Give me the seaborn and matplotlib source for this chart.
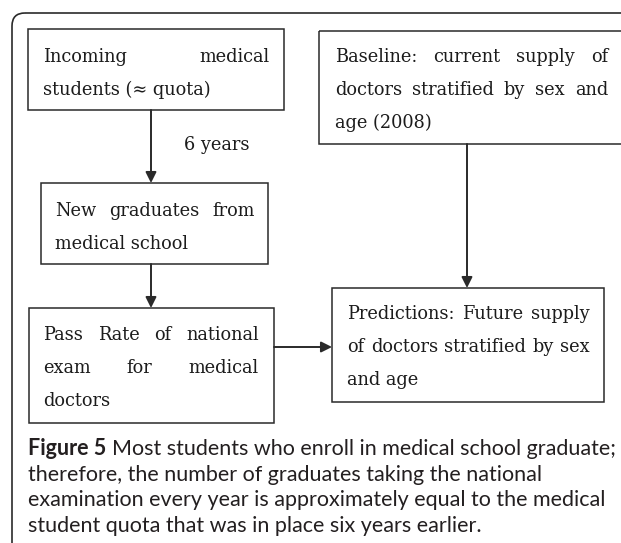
import matplotlib
matplotlib.use('Agg')
import matplotlib.pyplot as plt
import seaborn as sns
from matplotlib.patches import Rectangle, FancyBboxPatch

sns.set_theme(style='white')
plt.rcParams['font.family'] = ['DejaVu Serif', 'Liberation Serif']

# ---- diagram content ----
box_names = ['incoming', 'newgrad', 'passrate', 'baseline', 'predictions']
box_lines = {
    'incoming': ['Incoming medical', 'students (\u2248 quota)'],
    'newgrad': ['New graduates from', 'medical school'],
    'passrate': ['Pass Rate of national', 'exam for medical', 'doctors'],
    'baseline': ['Baseline: current supply of', 'doctors stratified by sex and', 'age (2008)'],
    'predictions': ['Predictions: Future supply', 'of doctors stratified by sex', 'and age'],
}
arrow_links = [('incoming', 'newgrad'), ('newgrad', 'passrate'),
               ('baseline', 'predictions'), ('passrate', 'predictions')]
arrow_label = '6 years'
caption_bold = 'Figure 5'
caption_lines = [
    'Most students who enroll in medical school graduate;',
    'therefore, the number of graduates taking the national',
    'examination every year is approximately equal to the medical',
    'student quota that was in place six years earlier.',
]

# ---- layout (pixel coordinates, y down) ----
# box: left, top, right, bottom ; text: left, right, first baseline
box_rect = {
    'incoming': (28, 29, 284, 110),
    'newgrad': (41, 183, 268, 264),
    'passrate': (29, 308, 274, 423),
    'baseline': (319, 31, 640, 144),
    'predictions': (332, 288, 604, 402),
}
box_text = {
    'incoming': (43, 270, 62),
    'newgrad': (55, 255, 216),
    'passrate': (43, 259, 340),
    'baseline': (335, 608, 62),
    'predictions': (347, 590, 319),
}
line_step = 33
arrow_pts = [((151, 110), (151, 183)), ((151, 264), (151, 308)),
             ((467, 144), (467, 288)), ((274, 347), (332, 347))]

W, H = 621, 543
fig = plt.figure(figsize=(W / 100, H / 100), dpi=100)
ax = fig.add_axes([0, 0, 1, 1])
ax.set_xlim(0, W)
ax.set_ylim(H, 0)
ax.axis('off')
renderer = fig.canvas.get_renderer()

edge = '#2a2a2a'
ink = '#1c1c1c'


def text_width(s, **kw):
    t = ax.text(0, 0, s, **kw)
    w = t.get_window_extent(renderer).width
    t.remove()
    return w


def put_line(s, x0, x1, y, justify, **kw):
    words = s.split(' ')
    if not justify or len(words) == 1:
        ax.text(x0, y, s, ha='left', va='baseline', **kw)
        return
    widths = [text_width(w, **kw) for w in words]
    gap = (x1 - x0 - sum(widths)) / (len(words) - 1)
    x = x0
    for w, wd in zip(words, widths):
        ax.text(x, y, w, ha='left', va='baseline', **kw)
        x += wd + gap


# outer frame with rounded corner
ax.add_patch(FancyBboxPatch((12, 13), 800, 800, boxstyle='round,pad=0,rounding_size=13',
                            fill=False, edgecolor=edge, lw=1.2, clip_on=True))

serif = ['DejaVu Serif', 'Liberation Serif']
# size the serif text so the tightest line spans its box like in the figure
ref_w = text_width(box_lines['predictions'][0], fontsize=10, family=serif)
box_size = 10 * 240 / ref_w
box_font = dict(fontsize=box_size, color=ink, family=serif)
for name in box_names:
    l, t, r, b = box_rect[name]
    ax.add_patch(Rectangle((l, t), r - l, b - t, fill=False, edgecolor=edge, lw=1.1))
    x0, x1, y0 = box_text[name]
    lines = box_lines[name]
    for i, s in enumerate(lines):
        put_line(s, x0, x1, y0 + i * line_step, i < len(lines) - 1, **box_font)

for (p0, p1) in arrow_pts:
    ax.annotate('', xy=p1, xytext=p0,
                arrowprops=dict(arrowstyle='-|>', mutation_scale=16, lw=1.4,
                                color=edge, shrinkA=0, shrinkB=0))
ax.text(184, 150, arrow_label, ha='left', va='baseline', **box_font)

# caption
cap_font = dict(color='#231f20', family=['Lato', 'DejaVu Sans'])
w_bold = text_width(caption_bold + ' ', fontsize=10, fontweight='bold', **cap_font)
w_rest = text_width(caption_lines[0], fontsize=10, **cap_font)
cap_size = 10 * 589 / (w_bold + w_rest)
cx = 28
cap_base = [455, 481, 506, 532]
ax.text(cx, cap_base[0], caption_bold, ha='left', va='baseline', fontsize=cap_size,
        fontweight='bold', **cap_font)
w_b = text_width(caption_bold, fontsize=cap_size, fontweight='bold', **cap_font)
w_sp = text_width('a a', fontsize=cap_size, **cap_font) - text_width('aa', fontsize=cap_size, **cap_font)
ax.text(cx + w_b + w_sp, cap_base[0], caption_lines[0], ha='left', va='baseline',
        fontsize=cap_size, **cap_font)
for s, y in zip(caption_lines[1:], cap_base[1:]):
    ax.text(cx, y, s, ha='left', va='baseline', fontsize=cap_size, **cap_font)

fig.savefig('out.png', dpi=100, facecolor='white')
